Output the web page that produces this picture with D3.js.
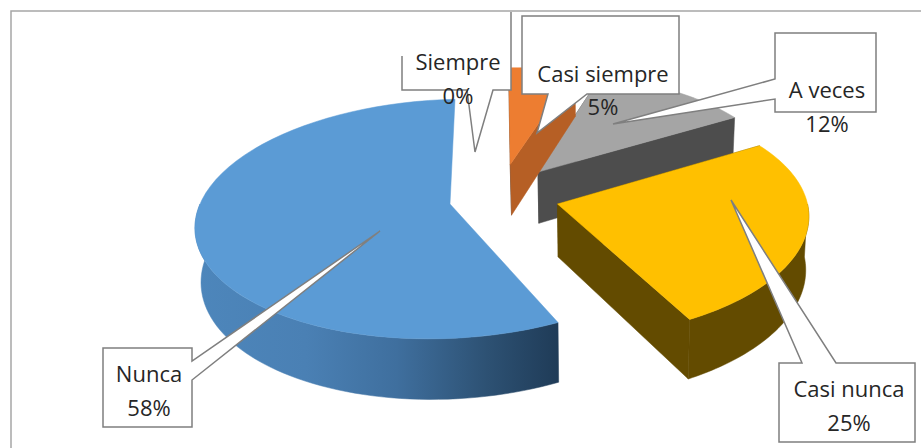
<!DOCTYPE html>
<html><head><meta charset="utf-8">
<script src="https://cdn.jsdelivr.net/npm/d3@7"></script>
<style>html,body{margin:0;padding:0;background:#fff}svg{display:block}</style></head>
<body><svg id="c" width="921" height="448"></svg>
<script>
const categories = ["Siempre","Casi siempre","A veces","Casi nunca","Nunca"];
const values = [0,5,12,25,58];
const labels = ["0%","5%","12%","25%","58%"];
const topColors = ["#4472c4","#ed7d31","#a5a5a5","#ffc000","#5b9bd5"];
const sideColors = ["#2f528f","#b65f25","#4d4d4d","#634b00","#3f6f9f"];
const radialColors = ["#2f528f","#b65f25","#4d4d4d","#634b00","#1f3b57"];
const explodeX = [0,-0.375,-0.257,-0.17,-0.60];
const explodeY = [0,-0.35,-0.28,0,0];
const startTrimDeg = [0,0,0,0,5];
const endTrimDeg = [0,0,0,2.5,0];

const W=921,H=448, cx0=600, cy0=204, Rw=250, Rh=118, k=0.125, Dz=53, rot=-3*Math.PI/180;
const svg=d3.select("#c");
const defs=svg.append("defs");
const g=defs.append("linearGradient").attr("id","blue").attr("gradientUnits","userSpaceOnUse").attr("x1",197).attr("x2",560).attr("y1",0).attr("y2",0);
[[0,"#4d86bb"],[0.3,"#4a80b4"],[0.55,"#3f6f9e"],[0.8,"#2d5173"],[1,"#1f3b57"]].forEach(s=>g.append("stop").attr("offset",s[0]).attr("stop-color",s[1]));

const pie=d3.pie().sort(null).value(d=>d).startAngle(rot).endAngle(2*Math.PI+rot);
const arcs=pie(values);
const project=(X,Y,lower)=>{
  const f=1/(1-k*Y), b=lower?0.985:1;
  return [cx0+Rw*X*f*b, cy0+(Rh*Y+(lower?Dz:0))*f];
};
const line=d3.line();
const pt=(i,a,r,lower)=>project(explodeX[i]+r*Math.sin(a),explodeY[i]-r*Math.cos(a),lower);
const arcPts=(i,a0,a1,lower)=>d3.range(0,61).map(j=>pt(i,a0+(a1-a0)*j/60,1,lower));
const poly=(pts,fill)=>svg.append("path").attr("d",line(pts)+"Z").attr("fill",fill).attr("stroke",fill).attr("stroke-width",0.5);

function drawSlice(i){
  const a=arcs[i]; if(a.endAngle-a.startAngle<=0) return;
  const s=a.startAngle+startTrimDeg[i]*Math.PI/180,e=a.endAngle+endTrimDeg[i]*Math.PI/180;
  if(i!==4){
    poly([pt(i,s,0,false),pt(i,s,0,true),pt(i,s,1,true),pt(i,s,1,false)],i==1?"#4d4d4d":radialColors[i]);
    poly([pt(i,e,0,false),pt(i,e,0,true),pt(i,e,1,true),pt(i,e,1,false)],radialColors[i]);
  }
  const fs=Math.max(s,Math.PI/2), fe=Math.min(e,Math.PI*1.5);
  if(fe>fs){
    const top=arcPts(i,fs,fe,false), bot=arcPts(i,fs,fe,true).reverse();
    poly(top.concat(bot), i==4?"url(#blue)":sideColors[i]);
  }
  poly([pt(i,s,0,false)].concat(arcPts(i,s,e,false)),topColors[i]);
}
[2,1,3,4].forEach(drawSlice);

svg.append("path").attr("d","M921,11H11V448").attr("fill","none").attr("stroke","#a6a6a6").attr("stroke-width",1.5);

const callouts=[
 {i:0,fill:[[402,13],[511,13],[511,90],[493,90],[475,152],[467,90],[402,90]],
  stroke:[[402,56],[402,90],[467,90],[475,152],[493,90],[511,90],[511,12]],t:[458,70],t2:[458,104]},
 {i:1,fill:[[522,16],[679,16],[679,94],[587,94],[537,133],[548,94],[522,94]],t:[603,82],t2:[603,115]},
 {i:2,fill:[[775,33],[876,33],[876,112],[775,112],[775,99],[613,124],[775,79]],t:[827,98],t2:[827,132]},
 {i:3,fill:[[779,363],[802,363],[731,200],[836,363],[915,363],[915,442],[779,442]],t:[849,397],t2:[849,431]},
 {i:4,fill:[[103,348],[192,348],[192,361],[380,231],[192,380],[192,427],[103,427]],t:[149,382],t2:[149,416]}
];
callouts.forEach(c=>{
  if(c.stroke){
    svg.append("path").attr("d",line(c.fill)+"Z").attr("fill","#fff");
    svg.append("path").attr("d",line(c.stroke)).attr("fill","none").attr("stroke","#7f7f7f").attr("stroke-width",1.5);
  } else {
    svg.append("path").attr("d",line(c.fill)+"Z").attr("fill","#fff").attr("stroke","#7f7f7f").attr("stroke-width",1.5);
  }
});
callouts.forEach(c=>{
  const mk=(p,s)=>svg.append("text").attr("x",p[0]).attr("y",p[1]).attr("text-anchor","middle")
    .attr("font-family","'Open Sans',sans-serif").attr("font-size",22).attr("fill","#262626").text(s);
  mk(c.t,categories[c.i]); mk(c.t2,labels[c.i]);
});
</script></body></html>
